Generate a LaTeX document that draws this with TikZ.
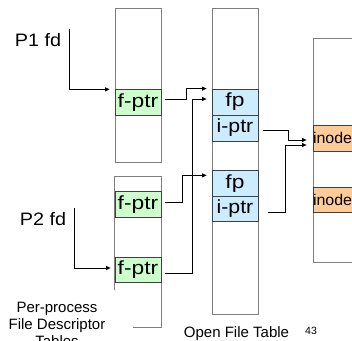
\documentclass[tikz,border=0pt]{standalone}
\usepackage{fontspec}
\usepackage{graphicx}
\setmainfont{Liberation Sans}
\usetikzlibrary{arrows.meta}
\definecolor{fgreen}{HTML}{CCFFCC}
\definecolor{fblue}{HTML}{CCECFF}
\definecolor{forange}{HTML}{FFCC99}
\definecolor{tblgray}{HTML}{7F7F7F}
\definecolor{cellgray}{HTML}{404040}
\newcommand{\stretchtxt}[2]{\scalebox{#1}[1]{#2}}
\newcommand{\cellfont}{\fontsize{19}{21}\selectfont}
\newcommand{\inodefont}{\fontsize{15.5}{17}\selectfont}
\newcommand{\lblfont}{\fontsize{15}{17}\selectfont}
\newcommand{\pfdfont}{\fontsize{18}{20}\selectfont}
\begin{document}
\begin{tikzpicture}[x=1pt,y=-1pt,
  tbl/.style={draw=tblgray, line width=0.8pt, inner sep=0pt, minimum width=46pt},
  tblline/.style={draw=tblgray, line width=0.8pt},
  cell/.style={draw=cellgray, line width=0.8pt, inner sep=0pt, minimum width=46pt, minimum height=25.5pt, font=\cellfont},
  inodecell/.style={draw=cellgray, line width=0.8pt, inner sep=0pt, text width=60pt, align=left, minimum height=25.5pt, font=\inodefont, fill=forange},
  conn/.style={line width=0.7pt, -{Triangle[length=4.5pt,width=4pt]}},
  lbl/.style={font=\lblfont, inner sep=0pt}]
\useasboundingbox (0,0) rectangle (352,340);
\clip (0,0) rectangle (352,340);

% per-process table 1
\node[tbl, minimum height=154pt] (t1) at (138,85) {};
\node[cell, fill=fgreen] (fA) at (138,102.5) {\stretchtxt{1.2}{f-ptr}};

% per-process table 2 (partly hidden by its label)
\node[tbl, draw=none, minimum height=150pt] (t2) at (138,252) {};
\draw[tblline] ([yshift=37pt]t2.south west) -- (t2.north west) -- (t2.north east) -- (t2.south east) -- ([xshift=-28pt]t2.south east);
\node[cell, fill=fgreen] (fB) at (138,204.5) {\stretchtxt{1.2}{f-ptr}};
\node[cell, fill=fgreen] (fC) at (138,270) {\stretchtxt{1.2}{f-ptr}};

% open file table
\node[tbl, minimum height=306pt] (oft) at (235,161) {};
\node[cell, fill=fblue, minimum height=26pt] (fpA) at (235,102) {\stretchtxt{1.2}{fp}};
\node[cell, fill=fblue, minimum height=26pt] (iA) at (235,128) {\stretchtxt{1.12}{i-ptr}};
\node[cell, fill=fblue] (fpB) at (235,183.5) {\stretchtxt{1.2}{fp}};
\node[cell, fill=fblue] (iB) at (235,209) {\stretchtxt{1.12}{i-ptr}};

% inode table
\node[tbl, minimum width=60pt, minimum height=224pt] (it) at (343,150) {};
\node[inodecell, minimum height=26pt] (inA) at (343,138) {\stretchtxt{1.03}{inode}};
\node[inodecell, minimum height=25pt] (inB) at (343,199.5) {\stretchtxt{1.03}{inode}};

% labels
\node[font=\pfdfont, inner sep=0pt, anchor=base] (p1) at (38,46) {\stretchtxt{1.1}{P1 fd}};
\node[font=\pfdfont, inner sep=0pt, anchor=base] (p2) at (43,225) {\stretchtxt{1.1}{P2 fd}};
\node[lbl, align=center, anchor=north] (ppl) at (57,302) {Per-process\\File Descriptor\\Tables};
\node[lbl, anchor=base] (oftl) at (236.5,337) {Open File Table};
\node[font=\fontsize{10.5}{12}\selectfont, inner sep=0pt, anchor=base] (pg) at (311,334) {43};

% connectors
\coordinate (p1top) at (69,29);
\coordinate (p2top) at (74,208);
\draw[conn] (p1top) |- ([xshift=-5pt]fA.north west);
\draw[conn] (p2top) |- ([xshift=-4pt,yshift=2pt]fC.west);
\draw[conn] ([xshift=4pt,yshift=3.5pt]fA.east) -- ++(21,0) |- ([xshift=-5pt]fpA.north west);
\draw[conn] ([xshift=4pt,yshift=2.5pt]fB.east) -- ++(17,0) |- ([xshift=-5pt,yshift=-5pt]fpB.north west);
\draw[conn] ([xshift=4pt,yshift=-3pt]fC.east) -- ++(27,0) |- ([xshift=-5pt,yshift=3pt]fpA.west);
\draw[conn] ([xshift=5pt,yshift=-2pt]iA.east) -- ++(25,0) |- ([xshift=-6pt,yshift=-2pt]inA.west);
\draw[conn] ([xshift=10pt,yshift=-3pt]iB.east) -- ++(17,0) |- ([xshift=-6pt,yshift=-7pt]inA.west);
\end{tikzpicture}
\end{document}
